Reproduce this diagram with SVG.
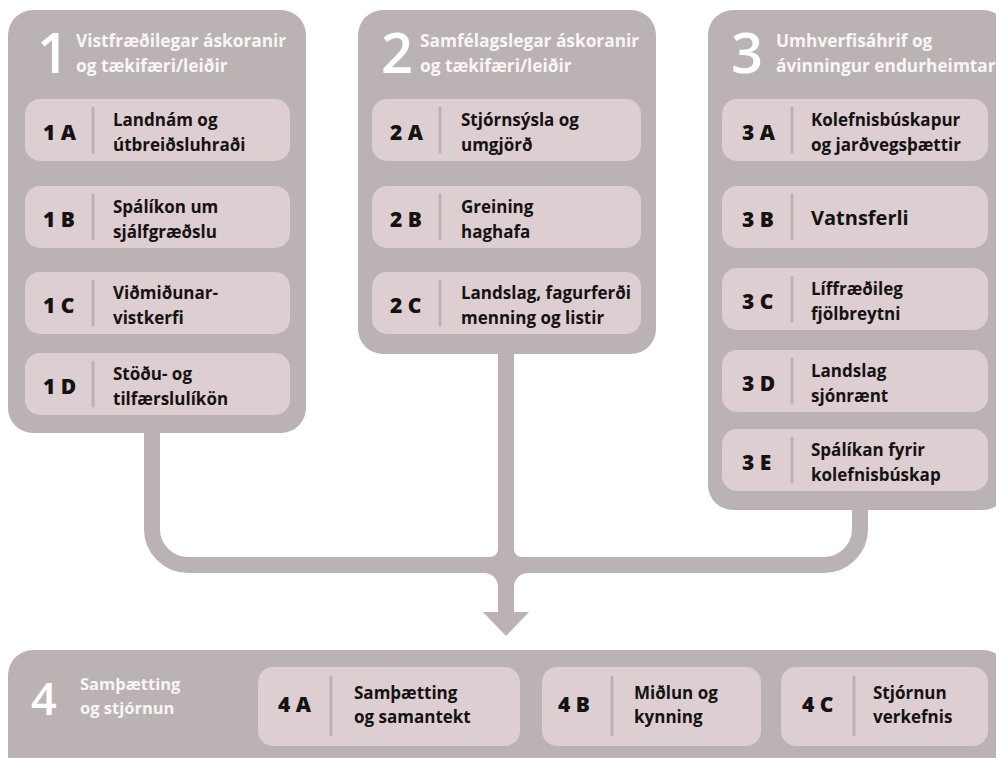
<svg xmlns="http://www.w3.org/2000/svg" width="996" height="758" viewBox="0 0 996 758">
<defs>
<style>
.col{fill:#bbb2b3}
.sub{fill:#ddced1}
.div{stroke:#bcb2b3;stroke-width:3;stroke-linecap:round}
.num{font-family:"Open Sans","Noto Sans",sans-serif;font-weight:600;fill:#ffffff}
.hd{font-family:"Open Sans","Noto Sans",sans-serif;font-weight:700;fill:#f8f5f5}
.lb{font-family:"Open Sans","Noto Sans",sans-serif;font-weight:800;font-size:21px;fill:#141213}
.tx{font-family:"Open Sans","Noto Sans",sans-serif;font-weight:700;fill:#141213}
.con{fill:none;stroke:#bbb2b3;stroke-width:16}
.conf{fill:#bbb2b3}
</style>
</defs>

<g id="connectors">
<path class="con" d="M152,432 V529 A36,36 0 0 0 188,565 H506"/>
<path class="con" d="M860,509 V529 A36,36 0 0 1 824,565 H506"/>
<path class="con" d="M506,353 V613"/>
<path class="conf" d="M490,557 A8,8 0 0 0 498,549 L498,557 Z"/>
<path class="conf" d="M514,549 A8,8 0 0 0 522,557 L514,557 Z"/>
<path class="conf" d="M484,573 A14,14 0 0 1 498,587 L498,573 Z"/>
<path class="conf" d="M514,587 A14,14 0 0 1 528,573 L514,573 Z"/>
<polygon class="conf" points="483,612 529,612 506,636"/>
</g>

<g id="col1" font-size="17.3">
<rect class="col" x="8" y="10" width="298" height="423" rx="25"/>
<text class="num" x="37" y="73" font-size="56">1</text>
<text class="hd" x="76" y="47">Vistfræðilegar áskoranir</text>
<text class="hd" x="76" y="72">og tækifæri/leiðir</text>
</g>
<g id="n1A" font-size="17">
<rect class="sub" x="25" y="99" width="265" height="62" rx="15"/>
<text class="lb" x="43" y="140">1 A</text>
<line class="div" x1="93" y1="108" x2="93" y2="152"/>
<text class="tx" x="113" y="126">Landnám og</text>
<text class="tx" x="113" y="151">útbreiðsluhraði</text>
</g>
<g id="n1B" font-size="17">
<rect class="sub" x="25" y="186" width="265" height="62" rx="15"/>
<text class="lb" x="43" y="227">1 B</text>
<line class="div" x1="93" y1="195" x2="93" y2="239"/>
<text class="tx" x="113" y="213">Spálíkon um</text>
<text class="tx" x="113" y="238">sjálfgræðslu</text>
</g>
<g id="n1C" font-size="17">
<rect class="sub" x="25" y="272" width="265" height="62" rx="15"/>
<text class="lb" x="43" y="313">1 C</text>
<line class="div" x1="93" y1="281" x2="93" y2="325"/>
<text class="tx" x="113" y="299">Viðmiðunar-</text>
<text class="tx" x="113" y="324">vistkerfi</text>
</g>
<g id="n1D" font-size="17">
<rect class="sub" x="25" y="353" width="265" height="62" rx="15"/>
<text class="lb" x="43" y="394">1 D</text>
<line class="div" x1="93" y1="362" x2="93" y2="406"/>
<text class="tx" x="113" y="380">Stöðu- og</text>
<text class="tx" x="113" y="405">tilfærslulíkön</text>
</g>

<g id="col2" font-size="17.3">
<rect class="col" x="358" y="10" width="298" height="344" rx="25"/>
<text class="num" x="381" y="73" font-size="56">2</text>
<text class="hd" x="420" y="47">Samfélagslegar áskoranir</text>
<text class="hd" x="420" y="72">og tækifæri/leiðir</text>
</g>
<g id="n2A" font-size="17">
<rect class="sub" x="372" y="99" width="269" height="62" rx="15"/>
<text class="lb" x="390" y="140">2 A</text>
<line class="div" x1="440" y1="108" x2="440" y2="152"/>
<text class="tx" x="461" y="126">Stjórnsýsla og</text>
<text class="tx" x="461" y="151">umgjörð</text>
</g>
<g id="n2B" font-size="17">
<rect class="sub" x="372" y="186" width="269" height="62" rx="15"/>
<text class="lb" x="390" y="227">2 B</text>
<line class="div" x1="440" y1="195" x2="440" y2="239"/>
<text class="tx" x="461" y="213">Greining</text>
<text class="tx" x="461" y="238">haghafa</text>
</g>
<g id="n2C" font-size="17">
<rect class="sub" x="372" y="272" width="269" height="62" rx="15"/>
<text class="lb" x="390" y="313">2 C</text>
<line class="div" x1="440" y1="281" x2="440" y2="325"/>
<text class="tx" x="461" y="299">Landslag, fagurferði</text>
<text class="tx" x="461" y="324">menning og listir</text>
</g>

<g id="col3" font-size="17.3">
<rect class="col" x="708" y="10" width="300" height="500" rx="25"/>
<text class="num" x="731" y="73" font-size="56">3</text>
<text class="hd" x="776" y="47">Umhverfisáhrif og</text>
<text class="hd" x="776" y="72">ávinningur endurheimtar</text>
</g>
<g id="n3A" font-size="17">
<rect class="sub" x="722" y="99" width="266" height="62" rx="15"/>
<text class="lb" x="742" y="140">3 A</text>
<line class="div" x1="792" y1="108" x2="792" y2="152"/>
<text class="tx" x="811" y="126">Kolefnisbúskapur</text>
<text class="tx" x="811" y="151">og jarðvegsþættir</text>
</g>
<g id="n3B">
<rect class="sub" x="722" y="186" width="266" height="62" rx="15"/>
<text class="lb" x="742" y="227">3 B</text>
<line class="div" x1="792" y1="195" x2="792" y2="239"/>
<text class="tx" x="811" y="225" font-size="20">Vatnsferli</text>
</g>
<g id="n3C" font-size="17">
<rect class="sub" x="722" y="268" width="266" height="62" rx="15"/>
<text class="lb" x="742" y="309">3 C</text>
<line class="div" x1="792" y1="277" x2="792" y2="321"/>
<text class="tx" x="811" y="295">Líffræðileg</text>
<text class="tx" x="811" y="320">fjölbreytni</text>
</g>
<g id="n3D" font-size="17">
<rect class="sub" x="722" y="350" width="266" height="62" rx="15"/>
<text class="lb" x="742" y="391">3 D</text>
<line class="div" x1="792" y1="359" x2="792" y2="403"/>
<text class="tx" x="811" y="377">Landslag</text>
<text class="tx" x="811" y="402">sjónrænt</text>
</g>
<g id="n3E" font-size="17">
<rect class="sub" x="722" y="429" width="266" height="62" rx="15"/>
<text class="lb" x="742" y="470">3 E</text>
<line class="div" x1="792" y1="438" x2="792" y2="482"/>
<text class="tx" x="811" y="456">Spálíkan fyrir</text>
<text class="tx" x="811" y="481">kolefnisbúskap</text>
</g>

<g id="col4" font-size="16.5">
<rect class="col" x="8" y="650" width="1000" height="130" rx="25"/>
<text class="num" x="31" y="715" font-size="45">4</text>
<text class="hd" x="80" y="690">Samþætting</text>
<text class="hd" x="80" y="714">og stjórnun</text>
</g>
<g id="n4A" font-size="17">
<rect class="sub" x="258" y="667" width="262" height="79" rx="15"/>
<text class="lb" x="278" y="712">4 A</text>
<line class="div" x1="331" y1="677" x2="331" y2="735"/>
<text class="tx" x="354" y="699">Samþætting</text>
<text class="tx" x="354" y="723">og samantekt</text>
</g>
<g id="n4B" font-size="17">
<rect class="sub" x="542" y="667" width="219" height="79" rx="15"/>
<text class="lb" x="558" y="712">4 B</text>
<line class="div" x1="612" y1="677" x2="612" y2="735"/>
<text class="tx" x="634" y="699">Miðlun og</text>
<text class="tx" x="634" y="723">kynning</text>
</g>
<g id="n4C" font-size="17">
<rect class="sub" x="781" y="667" width="207" height="79" rx="15"/>
<text class="lb" x="802" y="712">4 C</text>
<line class="div" x1="854" y1="677" x2="854" y2="735"/>
<text class="tx" x="873" y="699">Stjórnun</text>
<text class="tx" x="873" y="723">verkefnis</text>
</g>
</svg>
